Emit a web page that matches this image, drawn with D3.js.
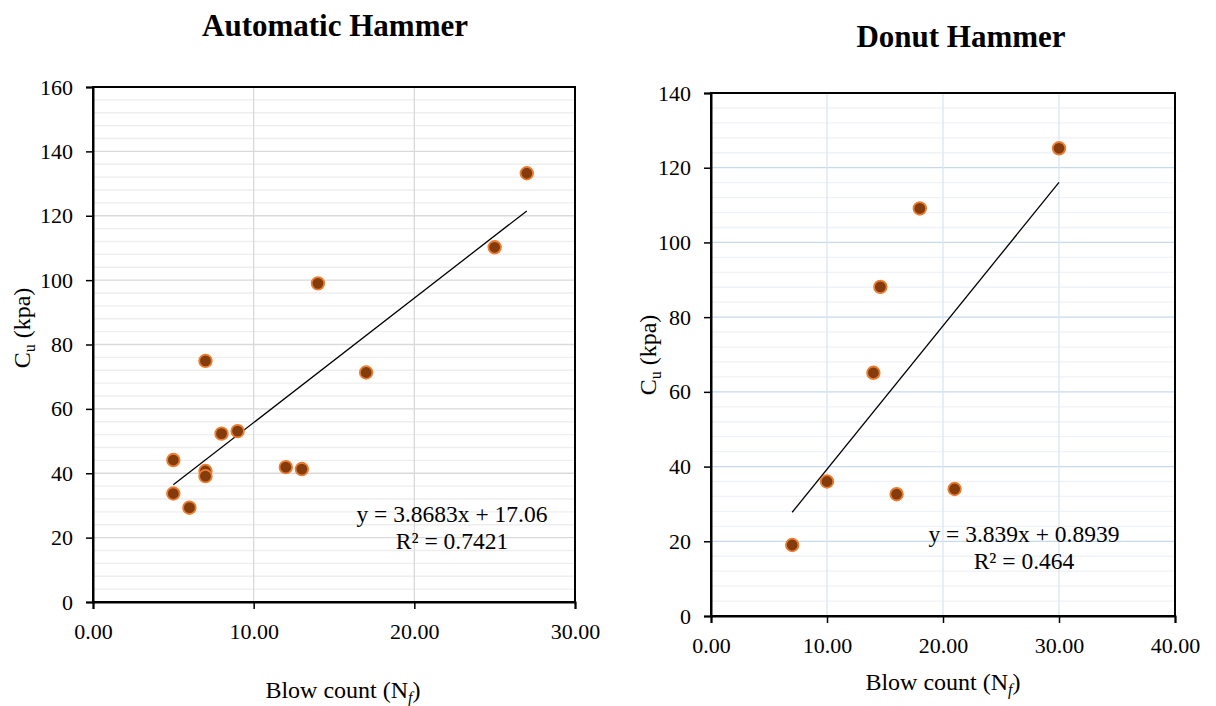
<!DOCTYPE html>
<html>
<head>
<meta charset="utf-8">
<script src="https://cdn.jsdelivr.net/npm/d3@7"></script>
<style>
  body { margin: 0; background: #fff; }
  svg text { font-family: "Liberation Serif", "Times New Roman", serif; fill: #000; }
</style>
</head>
<body>
<div id="chart"></div>
<script>
// Automatic hammer: blow count vs Cu
const autoBlow = [5, 5, 6, 7, 7, 7, 8, 9, 12, 13, 14, 17, 25, 27];
const autoCu = [44.1, 33.7, 29.3, 74.9, 40.7, 39.1, 52.3, 53.1, 41.9, 41.3, 99.0, 71.3, 110.2, 133.2];
const autoTrend = [3.8683, 17.06];
const autoXTicks = [0, 10, 20, 30];
const autoYTicks = [0, 20, 40, 60, 80, 100, 120, 140, 160];

// Donut hammer
const donutBlow = [7, 10, 14, 14.6, 16, 18, 21, 30];
const donutCu = [19.0, 36.0, 65.1, 88.1, 32.6, 109.1, 34.0, 125.2];
const donutTrend = [3.839, 0.8939];
const donutXTicks = [0, 10, 20, 30, 40];
const donutYTicks = [0, 20, 40, 60, 80, 100, 120, 140];

const serif = '"Liberation Serif", "Times New Roman", serif';

const svg = d3.select('#chart').append('svg')
  .attr('width', 1216)
  .attr('height', 706);

function drawPanel(opt) {
  const x = d3.scaleLinear().domain(d3.extent(opt.xTicks)).range([opt.left, opt.right]);
  const y = d3.scaleLinear().domain(d3.extent(opt.yTicks)).range([opt.bottom, opt.top]);
  const g = svg.append('g');

  // minor horizontal grid, every 4 units
  const minor = d3.range(y.domain()[0], y.domain()[1], 4).filter(v => v % 20 !== 0);
  g.selectAll('.minor').data(minor).enter().append('line')
    .attr('x1', opt.left).attr('x2', opt.right)
    .attr('y1', d => y(d)).attr('y2', d => y(d))
    .attr('stroke', opt.minorColor).attr('stroke-width', 1.3);

  // major grid
  g.selectAll('.hmajor').data(opt.yTicks.slice(1, -1)).enter().append('line')
    .attr('x1', opt.left).attr('x2', opt.right)
    .attr('y1', d => y(d)).attr('y2', d => y(d))
    .attr('stroke', opt.hColor).attr('stroke-width', 1.3);
  g.selectAll('.vmajor').data(opt.xTicks.slice(1, -1)).enter().append('line')
    .attr('y1', opt.top).attr('y2', opt.bottom)
    .attr('x1', d => x(d)).attr('x2', d => x(d))
    .attr('stroke', opt.vColor).attr('stroke-width', 1.3);

  // frame
  g.append('rect')
    .attr('x', opt.left).attr('y', opt.top)
    .attr('width', opt.right - opt.left).attr('height', opt.bottom - opt.top)
    .attr('fill', 'none').attr('stroke', '#000').attr('stroke-width', 2);

  // axes
  const xAxis = g.append('g')
    .attr('transform', `translate(0,${opt.bottom})`)
    .call(d3.axisBottom(x).tickValues(opt.xTicks).tickFormat(d3.format('.2f')).tickSizeOuter(0).tickSize(7).tickPadding(14));
  const yAxis = g.append('g')
    .attr('transform', `translate(${opt.left},0)`)
    .call(d3.axisLeft(y).tickValues(opt.yTicks).tickSizeOuter(0).tickSize(7).tickPadding(13));
  [xAxis, yAxis].forEach(a => {
    a.attr('font-family', serif).attr('font-size', 22);
    a.select('.domain').attr('stroke', '#000').attr('stroke-width', 2);
    a.selectAll('.tick line').attr('stroke', '#000').attr('stroke-width', 1.5);
    a.selectAll('text').attr('font-size', 22).style('font-family', serif);
  });

  // trendline
  const xs = d3.extent(opt.xs);
  g.append('line')
    .attr('x1', x(xs[0])).attr('y1', y(opt.trend[0] * xs[0] + opt.trend[1]))
    .attr('x2', x(xs[1])).attr('y2', y(opt.trend[0] * xs[1] + opt.trend[1]))
    .attr('stroke', '#000').attr('stroke-width', 1.3);

  // points
  g.selectAll('.pt').data(opt.xs.map((v, i) => [v, opt.ys[i]])).enter().append('circle')
    .attr('cx', d => x(d[0])).attr('cy', d => y(d[1]))
    .attr('r', 6.3)
    .attr('fill', '#843c0c')
    .attr('stroke', '#ed7d31').attr('stroke-width', 1.8);

  // equation
  const eq = g.append('text')
    .attr('text-anchor', 'middle').attr('font-size', 23.5);
  eq.append('tspan').attr('x', opt.eqX).attr('y', opt.eqY).text(opt.eq1);
  eq.append('tspan').attr('x', opt.eqX).attr('y', opt.eqY + 26.5).text(opt.eq2);

  // title
  g.append('text')
    .attr('x', opt.titleX).attr('y', opt.titleY)
    .attr('text-anchor', 'middle')
    .attr('font-size', 31).attr('font-weight', 'bold')
    .text(opt.title);

  // x label
  const xl = g.append('text')
    .attr('x', opt.xLabelX).attr('y', opt.xLabelY)
    .attr('text-anchor', 'middle').attr('font-size', 24);
  xl.append('tspan').text('Blow count (N');
  xl.append('tspan').attr('font-size', 16).attr('font-style', 'italic').attr('dy', 5).text('f');
  xl.append('tspan').attr('dy', -5).text(')');

  // y label
  const yl = g.append('text')
    .attr('transform', `translate(${opt.yLabelX},${opt.yLabelY}) rotate(-90)`)
    .attr('text-anchor', 'middle').attr('font-size', 24);
  yl.append('tspan').text('C');
  yl.append('tspan').attr('font-size', 16).attr('dy', 5).text('u');
  yl.append('tspan').attr('dy', -5).text(' (kpa)');
}

drawPanel({
  xs: autoBlow, ys: autoCu, trend: autoTrend,
  xTicks: autoXTicks, yTicks: autoYTicks,
  left: 93, right: 575, top: 87, bottom: 602,
  hColor: '#d9d9d9', vColor: '#d9d9d9', minorColor: '#eeeeee',
  eq1: 'y = 3.8683x + 17.06', eq2: 'R² = 0.7421', eqX: 452, eqY: 522,
  title: 'Automatic Hammer', titleX: 335, titleY: 36,
  xLabelX: 343, xLabelY: 698,
  yLabelX: 30, yLabelY: 328
});

drawPanel({
  xs: donutBlow, ys: donutCu, trend: donutTrend,
  xTicks: donutXTicks, yTicks: donutYTicks,
  left: 711, right: 1175, top: 93, bottom: 616,
  hColor: '#c6d9ef', vColor: '#dce5f0', minorColor: '#eff2f6',
  eq1: 'y = 3.839x + 0.8939', eq2: 'R² = 0.464', eqX: 1024, eqY: 542,
  title: 'Donut Hammer', titleX: 961, titleY: 47,
  xLabelX: 943, xLabelY: 690,
  yLabelX: 656, yLabelY: 355
});
</script>
</body>
</html>
